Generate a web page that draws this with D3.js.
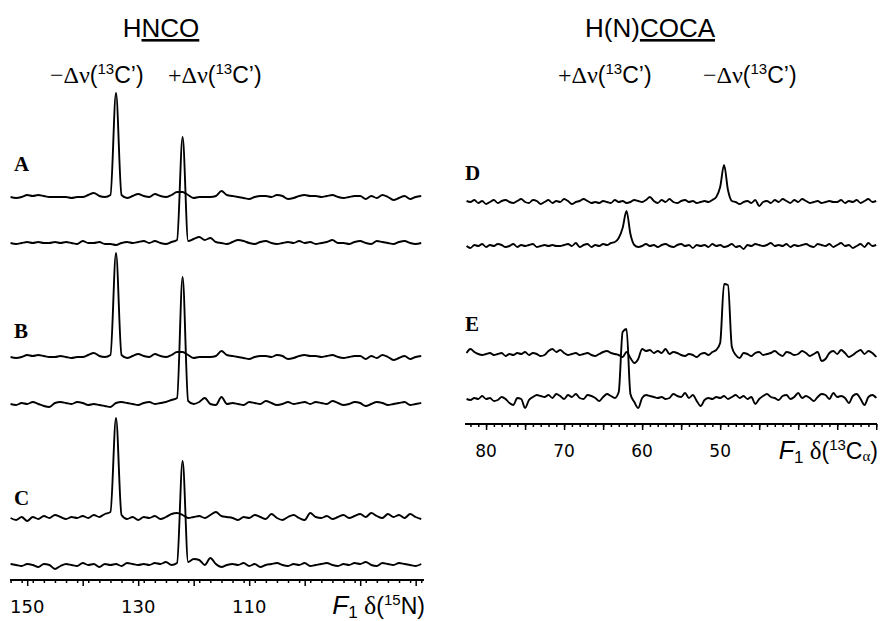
<!DOCTYPE html>
<html>
<head>
<meta charset="utf-8">
<script src="https://cdn.jsdelivr.net/npm/d3@7"></script>
<style>
  body { margin: 0; background: #fff; }
  svg { display: block; }
</style>
</head>
<body>
<div id="chart"></div>
<script>
// ppm grids: left traces start at 153 ppm, 1 ppm per value; right at 82.5 ppm, 0.5 ppm per value
const leftStart = 153, leftStep = 1;
const rightStart = 82.5, rightStep = 0.5;

const leftTicksMajor = [150, 140, 130, 120, 110, 100, 90, 80];
const leftTickLabels = [150, 130, 110];
const rightTickLabels = [80, 70, 60, 50];

// HNCO traces (intensity, arbitrary units)
const traceA1 = [
  0, -1, 0, 2, 1, 2, 1, 0, 0, 0,
  0, -1, 0, 0, 2, 4, 1, 0, 2, 104,
  2, -1, 1, 3, 1, 0, 3, 1, 0, 2,
  5, 5, 2, -1, 0, 0, 0, 1, 6, 2,
  1, 0, -1, -2, 0, 1, 1, 0, 2, 1,
  -2, -1, 1, 2, 1, 1, 0, 1, 2, 0,
  -1, 0, 1, 1, -2, 1, -1, 2, 0, -3,
  -1, 1, -2, 0, 1];
const traceA2 = [
  0, -1, 0, 1, 0, 1, 0, 0, 1, 0,
  1, 0, -1, 2, 0, 0, 1, -1, -1, -2,
  0, 1, 0, 1, 2, 0, 2, 0, -1, 1,
  3, 106, 2, 4, 6, 3, 5, 1, 0, -1,
  1, 3, 2, 0, -1, 1, 2, 0, -1, 0,
  1, 0, 2, 0, 1, -1, 0, 1, 3, 0,
  0, -1, 1, 2, 0, -1, 2, 1, 0, -1,
  1, 2, 0, -1, 0];
const traceB1 = [
  0, -1, 0, 2, 1, 2, 1, 0, 0, 1,
  0, -1, 0, 0, 2, 4, 1, 0, 2, 104,
  2, -1, 1, 3, 1, 0, 3, 1, 0, 2,
  5, 5, 2, -1, 0, 0, 0, 1, 6, 2,
  1, 0, -1, -2, 0, 1, 1, 0, 2, 1,
  -2, -1, 1, 2, 1, 1, 0, 1, 2, 0,
  -1, 0, 1, 1, -2, 1, -1, 2, 0, -3,
  -1, 1, -2, 0, 1];
const traceB2 = [
  0, -1, 1, 0, 2, 0, -2, -3, 1, 2,
  1, 0, 2, 1, -1, 0, -1, -2, -3, 1,
  2, 1, 0, -1, 1, 2, 0, 1, 2, 4,
  6, 127, 3, 0, 2, 6, 0, -1, 7, 0,
  1, 0, -1, 2, 1, 0, 3, 1, -1, 0,
  2, 0, 1, 2, 0, 2, 1, 0, 3, 1,
  -1, 0, 2, 1, -2, 0, 2, 1, -1, 0,
  1, 2, -1, 0, 1];
const traceC1 = [
  0, -2, 1, -3, 1, -1, 2, 0, 3, 1,
  -1, 1, 0, 2, 0, 3, 1, 4, 6, 100,
  3, -1, 1, -2, 1, 0, 2, -1, 1, 4,
  5, 3, 0, 1, 2, 0, 3, 6, 2, 1,
  0, -2, 1, 0, 3, 1, -1, 4, 0, -2,
  1, 3, 0, -2, 5, 1, 0, 2, -1, 1,
  3, 0, 2, 4, 1, 5, 2, 0, 4, 1,
  3, 0, 4, 1, -1];
const traceC2 = [
  1, 0, -1, 1, 0, -2, 1, 0, -4, -1,
  1, 0, -1, 2, 0, 1, -2, 1, 0, 1,
  -1, 2, 1, 0, 1, 0, 2, 1, 3, 0,
  2, 104, 3, 6, 5, 0, 7, 1, -2, 0,
  1, 0, 2, -1, 1, -2, 0, 1, 2, 0,
  -1, 1, 0, 2, -1, 0, 1, 2, 0, -1,
  1, 0, 2, 1, 3, 0, -1, 2, 1, 0,
  2, 1, 0, -1, 1];

// H(N)COCA traces
const traceD1 = [
  1, 0, 2, -1, 1, -2, 0, 2, -1, 1,
  2, 0, -1, 1, 3, 0, -1, 2, 1, -2,
  0, 2, -1, 1, 0, 3, 1, -2, 0, 1,
  3, 1, -1, 0, -1, 1, 0, -1, 2, 0,
  1, -1, 0, 2, 1, 0, 2, 5, 1, -1,
  2, 0, 3, 0, -1, 1, 2, 0, 1, -1,
  0, 1, 0, 2, 5, 15, 37, 12, 1, 0,
  -2, 0, 1, -1, 2, -4, 0, 1, -1, 2,
  0, 3, 1, -1, 2, 0, 3, 1, -1, 0,
  1, -1, 0, 1, 0, 0, 2, -1, 1, 0,
  2, -1, 1, 3, 0, 1];
const traceD2 = [
  0, -2, 1, 0, 2, -1, 1, 0, 2, 1,
  -1, 0, 2, -1, 1, 0, 1, 2, -1, 0,
  1, 0, 1, 0, 0, 1, 2, 0, 3, -1,
  1, 2, -1, 1, 0, 2, 1, 3, 4, 8,
  18, 35, 12, 1, -1, 0, 2, 0, 1, -1,
  1, 2, 0, -1, 1, 2, 0, 1, -2, 1,
  0, 1, -1, 2, 0, 1, -1, 0, 2, -1,
  0, -3, 1, 0, 2, 1, 0, 1, 3, 0,
  1, 0, 2, -1, 1, 0, 1, 2, 0, -1,
  2, 1, 0, 2, -1, 1, 3, 0, 1, -2,
  0, 2, -1, 3, 0, 1];
const traceE1 = [
  2, 6, 3, 1, 0, 1, 2, 0, 1, 2,
  -1, 1, 0, 2, 1, 3, 0, 2, 1, -1,
  0, 4, 6, 3, 5, 2, 0, 1, 2, 0,
  1, 2, 0, -1, 1, 3, 4, 2, 1, 0,
  -2, 3, -3, -8, -4, 6, 4, 5, 2, 4,
  2, 6, 1, 3, 2, 0, -1, 1, 0, -2,
  1, 2, 0, 3, 5, 12, 71, 70, 8, 0,
  -3, 2, 1, -1, 2, 3, 0, 1, 2, 4,
  1, -1, 3, 2, 0, 1, 4, 2, -1, 1,
  3, -6, -4, 2, 4, 1, 5, 2, -2, 0,
  3, 5, 1, 4, 2, -2];
const traceE2 = [
  1, 0, 2, 1, 4, 1, 2, -1, 0, 3,
  1, -3, -5, 2, 1, -8, 0, 3, 5, 4,
  3, 5, 2, 6, 4, 1, 5, 3, 6, 2,
  1, 5, 4, 2, -1, 3, 6, 4, 2, 8,
  68, 71, 6, -2, -8, 2, 5, 4, 3, 2,
  3, 1, 2, 6, 4, 3, 7, 2, 5, -1,
  -6, 0, 2, 1, 3, 2, 4, 1, 3, 5,
  2, 4, 1, 3, -4, 1, 4, 6, 3, 2,
  0, 4, 5, 1, 3, 7, 2, 4, 2, -1,
  3, 6, 5, 1, 7, 3, 4, 2, -3, 4,
  6, 1, -5, 3, 5, 2];

const width = 881, height = 621;

const svg = d3.select("#chart")
  .append("svg")
  .attr("width", width)
  .attr("height", height);

const sans = "Liberation Sans, Arial, sans-serif",
  serif = "Liberation Serif, Times New Roman, serif",
  tickFont = "DejaVu Sans, Verdana, sans-serif";

const xLeft = d3.scaleLinear().domain([153.1, 78.5]).range([10, 424]);
const xRight = d3.scaleLinear().domain([82.7, 29.9]).range([465, 877]);
const yInt = d3.scaleLinear().domain([0, 100]).range([0, -100]);

function drawTrace(values, x, start, step, baseline) {
  const line = d3.line()
    .curve(d3.curveMonotoneX)
    .x((d, i) => x(start - i * step))
    .y(d => baseline + yInt(d));
  svg.append("path")
    .datum(values)
    .attr("fill", "none")
    .attr("stroke", "#000")
    .attr("stroke-width", 1.9)
    .attr("stroke-linejoin", "round")
    .attr("d", line);
}

// left panel
drawTrace(traceA1, xLeft, leftStart, leftStep, 197);
drawTrace(traceA2, xLeft, leftStart, leftStep, 243);
drawTrace(traceB1, xLeft, leftStart, leftStep, 357);
drawTrace(traceB2, xLeft, leftStart, leftStep, 404);
drawTrace(traceC1, xLeft, leftStart, leftStep, 518);
drawTrace(traceC2, xLeft, leftStart, leftStep, 565);

// right panel
drawTrace(traceD1, xRight, rightStart, rightStep, 202);
drawTrace(traceD2, xRight, rightStart, rightStep, 246);
drawTrace(traceE1, xRight, rightStart, rightStep, 355);
drawTrace(traceE2, xRight, rightStart, rightStep, 400);

// axes
function drawAxis(x, y, minorStep, majors, labels, labelY, size) {
  const [d0, d1] = x.domain();
  const minors = d3.range(Math.floor(d0), Math.ceil(d1) - 1, -minorStep)
    .filter(v => v <= d0 && v >= d1);
  const g = svg.append("g").attr("transform", `translate(0,${y})`);
  g.append("g")
    .call(d3.axisBottom(x).tickValues(minors).tickSize(3).tickFormat(""))
    .call(a => a.select(".domain").remove())
    .selectAll("line").attr("stroke-width", 1.5);
  g.append("g")
    .call(d3.axisBottom(x).tickValues(majors).tickSize(6).tickFormat(""))
    .call(a => a.select(".domain").remove())
    .selectAll("line").attr("stroke-width", 1.5);
  g.append("line")
    .attr("x1", x.range()[0]).attr("x2", x.range()[1])
    .attr("stroke", "#000").attr("stroke-width", 2);
  svg.append("g")
    .selectAll("text")
    .data(labels)
    .join("text")
    .attr("x", d => x(d))
    .attr("y", labelY)
    .attr("text-anchor", "middle")
    .attr("font-family", tickFont)
    .attr("font-size", size)
    .text(d => d);
}

drawAxis(xLeft, 580, 2, leftTicksMajor, leftTickLabels, 613, 18);
drawAxis(xRight, 424, 1, d3.range(80, 29, -5), rightTickLabels, 457, 17);

// rich text helper
function richText(x, y, anchor, size, parts) {
  const t = svg.append("text")
    .attr("x", x).attr("y", y)
    .attr("text-anchor", anchor)
    .attr("font-size", size)
    .attr("font-family", sans);
  for (const p of parts) {
    const s = t.append("tspan").text(p.t);
    if (p.font) s.attr("font-family", p.font);
    if (p.size) s.attr("font-size", p.size);
    if (p.dy) s.attr("dy", p.dy);
    if (p.style) s.attr("font-style", p.style);
    if (p.u) s.attr("text-decoration", "underline");
  }
  return t;
}

function deltaLabel(x, sign) {
  richText(x, 83, "start", 23, [
    { t: sign + "\u0394\u03bd", font: serif, size: 24 },
    { t: "(" },
    { t: "13", size: 15, dy: -9 },
    { t: "C\u2019)", dy: 9 }
  ]);
}

richText(161, 37, "middle", 26, [{ t: "H" }, { t: "NCO", u: true }]);
richText(650, 37, "middle", 26, [{ t: "H(N)" }, { t: "COCA", u: true }]);

deltaLabel(50, "\u2212");
deltaLabel(168, "+");
deltaLabel(558, "+");
deltaLabel(703, "\u2212");

richText(425, 614, "end", 23, [
  { t: "F", style: "italic", size: 26 },
  { t: "1", size: 17, dy: 4 },
  { t: " \u03b4", font: serif, size: 26, dy: -4 },
  { t: "(" },
  { t: "15", size: 15, dy: -9 },
  { t: "N)", dy: 9 }
]);
richText(878, 459, "end", 23, [
  { t: "F", style: "italic", size: 25 },
  { t: "1", size: 17, dy: 4 },
  { t: " \u03b4", font: serif, size: 25, dy: -4 },
  { t: "(" },
  { t: "13", size: 15, dy: -9 },
  { t: "C", dy: 9 },
  { t: "\u03b1", size: 15, font: serif, dy: 2 },
  { t: ")", dy: -2 }
]);

// panel letters
const panelLetters = ["A", "B", "C", "D", "E"];
const letterPos = [[14, 171], [14, 338], [14, 505], [465, 180], [465, 331]];
svg.append("g")
  .selectAll("text")
  .data(panelLetters)
  .join("text")
  .attr("x", (d, i) => letterPos[i][0])
  .attr("y", (d, i) => letterPos[i][1])
  .attr("font-family", serif)
  .attr("font-weight", "bold")
  .attr("font-size", 21)
  .text(d => d);
</script>
</body>
</html>
